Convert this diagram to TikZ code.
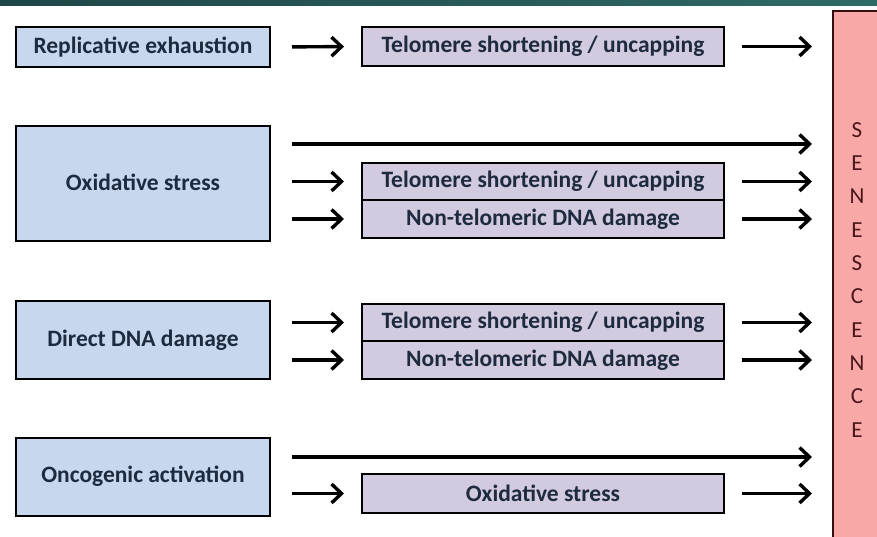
\documentclass[tikz,border=0pt]{standalone}
\usepackage{fontspec}
\setmainfont{Carlito}
\usetikzlibrary{arrows.meta,calc}
\definecolor{cblue}{HTML}{C6D7EE}
\definecolor{clav}{HTML}{D2CADF}
\definecolor{cpink}{HTML}{F8A8A7}
\definecolor{ctext}{HTML}{1E2A3E}
\definecolor{cmaroon}{HTML}{4A1619}
\definecolor{tealA}{HTML}{1F4646}
\definecolor{tealB}{HTML}{2F6A66}
\begin{document}
\begin{tikzpicture}[x=1pt,y=-1pt,
  cause/.style={draw=black,line width=2pt,fill=cblue,inner sep=0pt,minimum width=254pt,text=ctext,font=\fontsize{23.5}{26}\selectfont\bfseries},
  effect/.style={draw=black,line width=2pt,fill=clav,inner sep=0pt,minimum width=362pt,text=ctext,font=\fontsize{23.5}{26}\selectfont\bfseries},
  arr/.style={line width=3.4pt,-{Straight Barb[length=10pt,width=19pt,line width=3.4pt]}},
  letter/.style={text=cmaroon,font=\fontsize{23}{26}\selectfont,inner sep=0pt}]
\useasboundingbox (0,0) rectangle (877,537);
\shade[left color=tealA,right color=tealB] (0,0) rectangle (877,6);
% senescence box
\node[draw=cmaroon!70!black,line width=2pt,fill=cpink,minimum width=60pt,minimum height=540pt,anchor=north west,inner sep=0pt] (S) at (832,10) {};
\foreach \ch [count=\i from 0] in {S,E,N,E,S,C,E,N,C,E}
  \node[letter] (L\i) at (857,{130+33.3*\i}) {\ch};
% row 1
\node[cause,minimum height=40pt] (A) at (143,47) {Replicative exhaustion};
\node[effect,minimum height=39pt] (T1) at (543,46.5) {Telomere shortening / uncapping};
% row 2
\node[cause,minimum height=115pt] (Ox) at (143,183.5) {\raisebox{3pt}{Oxidative stress}};
\node[effect,minimum height=37pt] (T2) at (543,181.5) {Telomere shortening / uncapping};
\node[effect,minimum height=38pt] (N2) at (543,219) {Non-telomeric DNA damage};
% row 3
\node[cause,minimum height=78pt] (D) at (143,340) {Direct DNA damage};
\node[effect,minimum height=37pt] (T3) at (543,322.5) {Telomere shortening / uncapping};
\node[effect,minimum height=38pt] (N3) at (543,360) {Non-telomeric DNA damage};
% row 4
\node[cause,minimum height=78pt] (On) at (143,477) {\raisebox{5pt}{Oncogenic activation}};
\node[effect,minimum height=39pt] (O4) at (543,493.5) {Oxidative stress};
% arrows
\draw[arr,shorten <=21pt,shorten >=17pt] (A.east) -- (T1.west);
\draw[arr,shorten <=17pt,shorten >=20pt] (T1.east) -- (T1.east -| S.west);
\coordinate (o1) at ($(Ox.north east)+(0,19)$);
\draw[arr,shorten <=21pt,shorten >=20pt] (o1) -- (o1 -| S.west);
\foreach \n in {T2,N2,T3,N3,O4}{
  \draw[arr,shorten >=20pt,shorten <=17pt] (\n.east) -- (\n.east -| S.west);
}
\draw[arr,shorten <=21pt,shorten >=17pt] (Ox.east |- T2) -- (T2.west);
\draw[arr,shorten <=21pt,shorten >=17pt] (Ox.east |- N2) -- (N2.west);
\draw[arr,shorten <=21pt,shorten >=17pt] (D.east |- T3) -- (T3.west);
\draw[arr,shorten <=21pt,shorten >=17pt] (D.east |- N3) -- (N3.west);
\coordinate (o4) at ($(On.north east)+(0,20)$);
\draw[arr,shorten <=21pt,shorten >=20pt] (o4) -- (o4 -| S.west);
\draw[arr,shorten <=21pt,shorten >=17pt] (On.east |- O4) -- (O4.west);
\end{tikzpicture}
\end{document}
